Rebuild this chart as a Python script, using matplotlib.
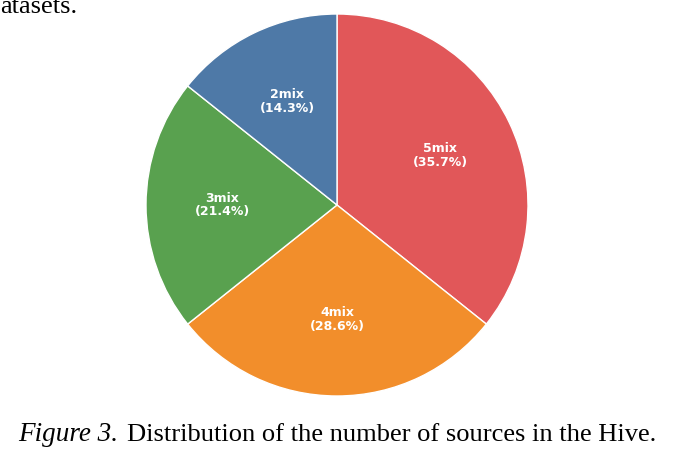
import matplotlib
matplotlib.use("Agg")
import matplotlib.pyplot as plt

# data
labels = ["5mix", "4mix", "3mix", "2mix"]
counts = [5, 4, 3, 2]
colors = ["#e15759", "#f28e2b", "#59a14f", "#4e79a7"]

W, H = 673, 463
fig = plt.figure(figsize=(W / 100, H / 100), dpi=100)

# pie axes placed by pixel box
x0, x1, ytop, ybot = 146, 528, 14, 396
ax = fig.add_axes([x0 / W, 1 - ybot / H, (x1 - x0) / W, (ybot - ytop) / H])

total = sum(counts)
wedges, texts = ax.pie(counts, colors=colors, startangle=90, counterclock=False,
                       labels=["%s\n(%.1f%%)" % (l, 100 * c / total) for l, c in zip(labels, counts)],
                       labeldistance=0.6,
                       wedgeprops=dict(edgecolor="white", linewidth=1),
                       textprops=dict(color="white", fontweight="bold", fontsize=9,
                                      ha="center", va="center", linespacing=1.05))
for t in texts:
    t.set_horizontalalignment("center")
    t.set_multialignment("center")
ax.set_xlim(-1, 1)
ax.set_ylim(-1, 1)

# paper text around the figure
fig.text(0 / W, 1 - 13 / H, "atasets.", family="Liberation Serif", fontsize=19,
         va="baseline", ha="left")
fig.text(18 / W, 1 - 441 / H, "Figure 3.", family="Liberation Serif", style="italic",
         fontsize=19.5, va="baseline", ha="left")
fig.text(127 / W, 1 - 441 / H, "Distribution of the number of sources in the Hive.",
         family="Liberation Serif", fontsize=19.05, va="baseline", ha="left")

fig.savefig("out.png", dpi=100)
